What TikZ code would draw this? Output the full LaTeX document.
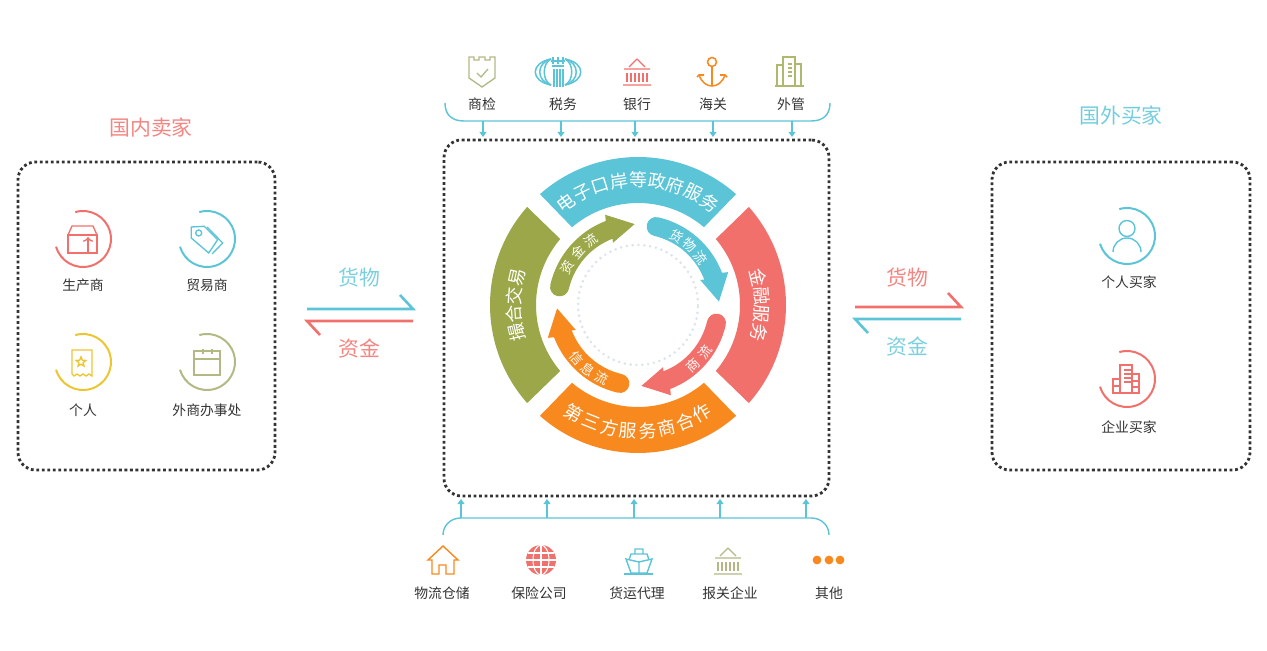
\documentclass[tikz,border=0pt]{standalone}
\usepackage{fontspec}
\setmainfont{Noto Sans CJK SC}
\usetikzlibrary{shapes.geometric,arrows.meta}

\definecolor{mapblue}{HTML}{5BC4D6}
\definecolor{mapred}{HTML}{F2706B}
\definecolor{maporange}{HTML}{F7891F}
\definecolor{mapgreen}{HTML}{9BA748}
\definecolor{mapyellow}{HTML}{EDC531}
\definecolor{mapkhaki}{HTML}{B2B984}
\definecolor{mapgray}{HTML}{333333}
\definecolor{mapdots}{HTML}{DCE3EC}

% ring round an icon
\newcommand{\iconring}[2]{\draw[#2,line width=1.7pt] (#1) ++(106:28) arc[start angle=106,end angle=-164,radius=28];}
% letters set one by one round the centre: name, radius, first angle, step, turn, style, letters
\newcommand{\ringtext}[7]{\foreach \ch [count=\k, evaluate=\k as \ang using {#3+(\k-1)*(#4)}] in {#7} {
  \node[#6,rotate=\ang+#5] (#1\k) at (\ang:#2) {\ch};
}}
% bank front with columns
\newcommand{\bankicon}[2]{\begin{scope}[shift={(#1)},icon,#2]
  \draw (0,13) -- (-8,5) (0,13) -- (8,5) (-13,3) -- (13,3) (-14,-13) -- (14,-13);
  \foreach \x in {-10,-6,-2,2,6,10} \draw (\x,-1) -- (\x,-10);
\end{scope}}

\begin{document}
\begin{tikzpicture}[x=0.03cm,y=0.03cm,
  dotbox/.style={draw=mapgray,line width=2.4pt,dash pattern=on 2.4pt off 2.3pt,rounded corners=15pt,inner sep=0pt,outer sep=0pt},
  icon/.style={line width=1.15pt},
  lab/.style={text=mapgray,inner sep=0pt,font=\fontsize{11.8}{14}\selectfont},
  title/.style={inner sep=0pt,font=\fontsize{17.8}{20}\selectfont},
  ringlab/.style={text=white,inner sep=0pt,font=\fontsize{15.3}{17}\selectfont},
  flowlab/.style={text=white,inner sep=0pt,font=\fontsize{11.3}{13}\selectfont},
  linkline/.style={mapblue,line width=1.2pt},
  linkarrow/.style={mapblue,line width=1.2pt,-{Triangle[length=4.5pt,width=6pt]},shorten >=2.5pt},
  halfarrow/.style={line width=2.2pt}]
\useasboundingbox (0,0) rectangle (1267,651);

% dotted boxes
\node[dotbox,minimum width=7.71cm,minimum height=9.24cm] (sellerbox) at (146.5,335) {};
\node[dotbox,minimum width=11.55cm,minimum height=10.68cm] (midbox) at (636.5,333) {};
\node[dotbox,minimum width=7.74cm,minimum height=9.24cm] (buyerbox) at (1121,335) {};

% titles
\node[title,text=mapred!85] (sellertitle) at (151,523) {国内卖家};
\node[title,text=mapblue!85] (buyertitle) at (1121,535) {国外买家};

% ring round the centre
\begin{scope}[shift={(638,346)}]
\foreach \rot/\col in {0/mapred,90/mapblue,180/mapgreen,270/maporange} {
  \fill[\col] (\rot-41.5:148) arc[start angle=\rot-41.5,end angle=\rot+41.5,radius=148] -- (\rot+40.3:102) arc[start angle=\rot+40.3,end angle=\rot-40.3,radius=102] -- cycle;
}
\ringtext{blue}{125}{125}{-8.75}{-90}{ringlab}{电,子,口,岸,等,政,府,服,务}
\ringtext{red}{124}{12.9}{-8.6}{-90}{ringlab}{金,融,服,务}
\ringtext{green}{124}{192.9}{-8.6}{-90}{ringlab}{撮,合,交,易}
\ringtext{orange}{126}{239.4}{8.74}{90}{ringlab}{第,三,方,服,务,商,合,作}

% flow arrows
\foreach \rot/\col in {0/mapblue,90/mapgreen,180/maporange,270/mapred} {
  \begin{scope}[rotate=\rot]
  \fill[\col] (21:90) arc[start angle=21,end angle=77,radius=90] arc[start angle=77,delta angle=180,radius=9.5] arc[start angle=77,end angle=21,radius=71] -- (22:67) -- (2.4:81) -- (20:96) -- cycle;
  \end{scope}
}
\ringtext{goods}{79}{60.7}{-11.8}{-90}{flowlab}{货,物,流}
\ringtext{cash}{80}{151.6}{-12.6}{-90}{flowlab}{资,金,流}
\ringtext{trade}{82}{-47.5}{12.5}{90}{flowlab}{商,流}
\ringtext{info}{81}{220.9}{11.3}{90}{flowlab}{信,息,流}

% inner dotted circle
\draw[color=mapdots,line width=2.5pt,line cap=round,dash pattern=on 0pt off 5pt] (0,0) circle[radius=60];
\end{scope}

% top row
\foreach \x/\txt [count=\i] in {482/商检,563/税务,637/银行,713/海关,791/外管}
  \node[lab] (toplab\i) at (\x,547) {\txt};
\draw[linkline] (445,548) .. controls (445,536) and (452,530) .. (464,530) -- (811,530) .. controls (823,530) and (830,536) .. (830,548);
\foreach \x [count=\i] in {483,561,635,713,792} {
  \coordinate (topfoot\i) at (\x,530);
  \draw[linkarrow] (topfoot\i) -- (topfoot\i |- midbox.north);
}

% shield
\begin{scope}[shift={(482,579)},icon,mapkhaki]
\draw (-13,15) -- (-8,15) -- (-8,12) -- (-3,12) -- (-3,15) -- (3,15) -- (3,12) -- (8,12) -- (8,15) -- (13,15) -- (13,-6) -- (0,-15) -- (-13,-6) -- cycle;
\draw (-5,-1) -- (-1,-5) -- (6,3);
\end{scope}

% tax emblem
\begin{scope}[shift={(558,579)},mapblue,line width=1.3pt]
\foreach \r in {9,15,21} {
  \draw (-7,13) .. controls (-7-\r,9) and (-7-\r,-9) .. (-7,-13);
  \draw (7,13) .. controls (7+\r,9) and (7+\r,-9) .. (7,-13);
}
\foreach \x in {-4,-1,2,5} \draw (\x,-15) -- (\x,3);
\draw (-5,15) -- (-5,8) (0,15) -- (0,8) (5,15) -- (5,8) (-7,11) -- (7,11) (-6,6) -- (6,6);
\end{scope}

% bank
\bankicon{637,579}{mapred}

% anchor
\begin{scope}[shift={(712,579)},icon,maporange,line width=1.3pt]
\draw (0,10) circle[radius=4.5];
\draw (0,5.5) -- (0,-14);
\draw (-13,-3) .. controls (-10,-11) and (-5,-14) .. (0,-14) .. controls (5,-14) and (10,-11) .. (13,-3);
\draw (-15,-5) -- (-13,-3) -- (-8,-3) (15,-5) -- (13,-3) -- (8,-3);
\end{scope}

% office towers
\begin{scope}[shift={(789,579)},icon,mapgreen!80]
\draw (-14,-14) -- (15,-14);
\draw (-6,-14) -- (-6,15) -- (6,15) -- (6,-14);
\draw (-6,7) -- (-12,7) -- (-12,-14) (6,8) -- (12,8) -- (12,-14);
\foreach \y in {8,4,0,-4} \draw (-1,\y) -- (3,\y);
\end{scope}

% bottom row
\foreach \x/\txt [count=\i] in {442/物流仓储,539/保险公司,637/货运代理,730/报关企业,829/其他}
  \node[lab] (botlab\i) at (\x,58) {\txt};
\draw[linkline] (443,116) .. controls (443,125) and (450,133) .. (461,133) -- (811,133) .. controls (822,133) and (829,125) .. (829,116);
\foreach \x [count=\i] in {461,547,634,720,806} {
  \coordinate (botfoot\i) at (\x,133);
  \draw[linkarrow] (botfoot\i) -- (botfoot\i |- midbox.south);
}

% house
\begin{scope}[shift={(443,91)},icon,maporange,line width=1.2pt]
\draw (-15,0) -- (0,14) -- (15,0) -- (11,0) -- (11,-14) -- (3,-14) -- (3,-5) -- (-4,-5) -- (-4,-14) -- (-11,-14) -- (-11,0) -- cycle;
\end{scope}

% globe
\begin{scope}[shift={(541,91)}]
\fill[mapred] (0,0) circle[radius=15];
\draw[white,line width=0.9pt] (0,-15) -- (0,15) (-15,0) -- (15,0) (-13,7) -- (13,7) (-13,-7) -- (13,-7);
\draw[white,line width=0.9pt] (0,0) ellipse[x radius=8,y radius=15];
\end{scope}

% ship
\begin{scope}[shift={(639,89)},icon,mapblue,line width=1.2pt]
\draw (-13,3) -- (0,0) -- (13,3) -- (8,-11) -- (-8,-11) -- cycle;
\draw (-10,2) -- (-8,8) -- (8,8) -- (10,2) (-4,8) -- (-4,13) -- (4,13) -- (4,8) (0,0) -- (0,-11);
\draw (-15,-12) -- (14,-12);
\end{scope}

% customs broker
\bankicon{728,90}{mapkhaki}

% dots
\foreach \x [count=\i] in {817,829,840} \fill[maporange] (\x,91) circle[radius=4.4];

% seller icons
\coordinate (maker) at (83,412);
\coordinate (dealer) at (207,412);
\coordinate (person) at (83,289);
\coordinate (agency) at (207,289);
\iconring{maker}{mapred}
\iconring{dealer}{mapblue}
\iconring{person}{mapyellow}
\iconring{agency}{mapkhaki}
\node[lab] (makerlab) at (83,366) {生产商};
\node[lab] (dealerlab) at (207,366) {贸易商};
\node[lab] (personlab) at (83,241) {个人};
\node[lab] (agencylab) at (207,241) {外商办事处};

% parcel
\begin{scope}[shift={(maker)},icon,mapred]
\draw (-15,-14) rectangle (14,4);
\draw (-15,4) -- (-11,13) -- (10,13) -- (14,4);
\draw[->] (5,-14) -- (5,2);
\end{scope}

% price tag
\begin{scope}[shift={(dealer)},icon,mapblue]
\draw (-15.7,12) -- (-2.7,12.7) -- (10.7,-0.7) -- (1.7,-14) -- (-15.7,1) -- cycle;
\draw (0,12) -- (15.7,-4) -- (5,-15);
\draw (-8.3,6) circle[radius=3];
\end{scope}

% receipt
\begin{scope}[shift={(person)},icon,mapyellow]
\draw (-11,12) -- (9,12) -- (9,-14) -- (6,-12) -- (3,-14) -- (0,-12) -- (-3,-14) -- (-6,-12) -- (-9,-14) -- (-11,-12) -- cycle;
\node[star,star points=5,star point ratio=2.2,draw=mapyellow,line width=1.2pt,inner sep=0pt,minimum size=0.3cm] (receiptstar) at (-2,0) {};
\end{scope}

% calendar
\begin{scope}[shift={(agency)},icon,mapkhaki]
\draw (-13,-13) rectangle (13,11);
\draw (-13,3) -- (13,3) (-4,13) -- (-4,8) (5,13) -- (5,8);
\end{scope}

% buyer icons
\coordinate (privbuyer) at (1127,415);
\coordinate (firmbuyer) at (1127,272);
\iconring{privbuyer}{mapblue}
\iconring{firmbuyer}{mapred}
\node[lab] (privlab) at (1129,369) {个人买家};
\node[lab] (firmlab) at (1129,224) {企业买家};

% person
\begin{scope}[shift={(privbuyer)},mapblue,line width=1.2pt]
\draw (0,7.5) circle[radius=8];
\draw (-14,-16) arc[start angle=180,end angle=0,radius=14];
\end{scope}

% buildings
\begin{scope}[shift={(firmbuyer)},icon,mapred]
\draw (-7,-14) -- (-7,14) -- (5,14) -- (5,-14);
\draw (-7,0) -- (-14,0) -- (-14,-14) -- (12,-14) -- (12,5) -- (5,5);
\foreach \y in {9,5,1,-3} \draw (-3,\y) -- (5,\y);
\draw (-14,-7) -- (-7,-7) (5,-2) -- (12,-2) (5,-8) -- (12,-8);
\end{scope}

% goods and money, left side
\coordinate (lefttopstart) at (307,342);
\coordinate (lefttopend) at (413,342);
\coordinate (leftbarbtop) at (400,356);
\coordinate (leftlowstart) at (413,330);
\coordinate (leftlowend) at (307,330);
\coordinate (leftbarblow) at (320,316);
\draw[halfarrow,mapblue] (lefttopstart) -- (lefttopend) -- (leftbarbtop);
\draw[halfarrow,mapred] (leftlowstart) -- (leftlowend) -- (leftbarblow);
\node[title,text=mapblue!80] (leftgoods) at (359,373) {货物};
\node[title,text=mapred!85] (leftmoney) at (359,302) {资金};

% goods and money, right side
\coordinate (righttopstart) at (855,344);
\coordinate (righttopend) at (961,344);
\coordinate (rightbarbtop) at (948,358);
\coordinate (rightlowstart) at (961,332);
\coordinate (rightlowend) at (855,332);
\coordinate (rightbarblow) at (868,318);
\draw[halfarrow,mapred] (righttopstart) -- (righttopend) -- (rightbarbtop);
\draw[halfarrow,mapblue] (rightlowstart) -- (rightlowend) -- (rightbarblow);
\node[title,text=mapred!85] (rightgoods) at (907,373) {货物};
\node[title,text=mapblue!80] (rightmoney) at (907,304) {资金};

\end{tikzpicture}
\end{document}
